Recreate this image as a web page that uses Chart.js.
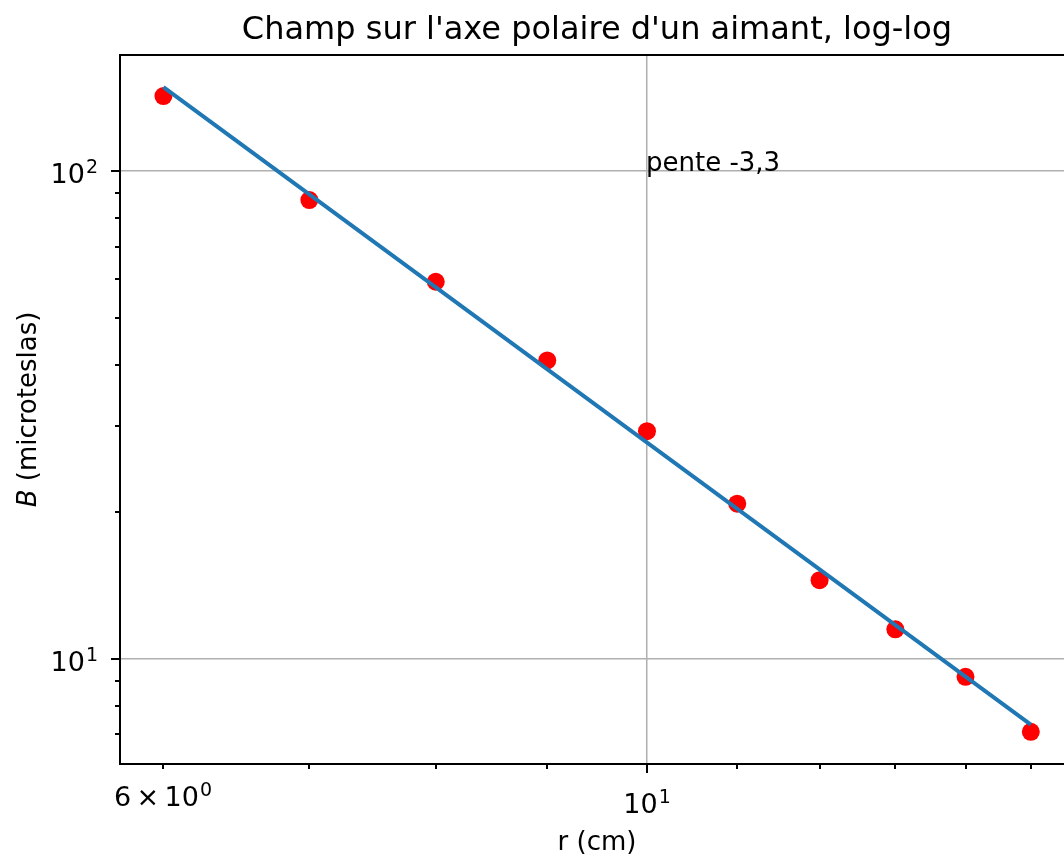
<!DOCTYPE html>
<html>
<head>
<meta charset="utf-8">
<script src="https://cdn.jsdelivr.net/npm/chart.js@4"></script>
<style>
  html,body{margin:0;padding:0;background:#fff;overflow:hidden;}
  canvas{display:block;}
</style>
</head>
<body>
<canvas id="c" width="1090" height="861"></canvas>
<script>
// mesures (r en cm, B en microteslas)
const rValues = [6, 7, 8, 9, 10, 11, 12, 13, 14, 15];
const bValues = [142.4, 87.2, 59.3, 40.9, 29.3, 20.8, 14.5, 11.5, 9.19, 7.09];
// droite d'ajustement (extrémités)
const fitR = [6, 15];
const fitB = [148.5, 7.33];

const xTickValues = [6, 7, 8, 9, 10, 11, 12, 13, 14, 15];
const yTickValues = [7, 8, 9, 10, 20, 30, 40, 50, 60, 70, 80, 90, 100];
// étiquettes : [base, exposant]
const xTickLabels = {6: ['6\u2009×\u200910', '0'], 10: ['10', '1']};
const yTickLabels = {10: ['10', '1'], 100: ['10', '2']};
const xRange = [5.731, 15.70];
const yRange = [6.09, 172.9];

const titleText = "Champ sur l'axe polaire d'un aimant, log-log";
const xLabel = 'r (cm)';
const noteText = 'pente -3,3';
const notePos = [10, 100];

const FONT = "'DejaVu Sans', sans-serif";
const isMajor = v => Math.abs(Math.log10(v) - Math.round(Math.log10(v))) < 1e-9;

function supLabel(ctx, parts, x, y, align){
  ctx.font = '27px ' + FONT;
  const w1 = ctx.measureText(parts[0]).width;
  ctx.font = '19px ' + FONT;
  const w2 = ctx.measureText(parts[1]).width;
  const w = w1 + w2 + 1;
  const x0 = align === 'right' ? x - w : x - w / 2;
  ctx.textAlign = 'left';
  ctx.textBaseline = 'alphabetic';
  ctx.font = '27px ' + FONT;
  ctx.fillText(parts[0], x0, y);
  ctx.font = '19px ' + FONT;
  ctx.fillText(parts[1], x0 + w1 + 1, y - 10);
}

const deco = {
  id: 'deco',
  afterDraw(chart){
    const ctx = chart.ctx, a = chart.chartArea;
    const xs = chart.scales.x, ys = chart.scales.y;
    ctx.save();
    ctx.strokeStyle = '#000';
    ctx.fillStyle = '#000';
    ctx.lineWidth = 2;
    // graduations + étiquettes
    xs.ticks.forEach(t => {
      const p = Math.round(xs.getPixelForValue(t.value));
      const len = t.major ? 9 : 5;
      ctx.beginPath(); ctx.moveTo(p, a.bottom); ctx.lineTo(p, a.bottom + len); ctx.stroke();
      const lab = xTickLabels[t.value];
      if (lab) supLabel(ctx, lab, p, a.bottom + (t.major ? 49 : 42), 'center');
    });
    ys.ticks.forEach(t => {
      const p = Math.round(ys.getPixelForValue(t.value));
      const len = t.major ? 9 : 5;
      ctx.beginPath(); ctx.moveTo(a.left, p); ctx.lineTo(a.left - len, p); ctx.stroke();
      const lab = yTickLabels[t.value];
      if (lab) supLabel(ctx, lab, a.left - 22, p + 12, 'right');
    });
    // cadre haut / droite
    ctx.beginPath();
    ctx.moveTo(a.left, a.top); ctx.lineTo(a.right, a.top); ctx.lineTo(a.right, a.bottom);
    ctx.stroke();

    // titre
    ctx.font = '32px ' + FONT;
    ctx.textAlign = 'center';
    ctx.textBaseline = 'alphabetic';
    ctx.fillText(titleText, (a.left + a.right) / 2, a.top - 16);
    // axe x
    ctx.font = '26px ' + FONT;
    ctx.fillText(xLabel, (a.left + a.right) / 2, 850);
    // annotation
    ctx.textAlign = 'left';
    ctx.fillText(noteText, xs.getPixelForValue(notePos[0]) - 1, ys.getPixelForValue(notePos[1]));
    // axe y : B en italique
    ctx.translate(36, (a.top + a.bottom) / 2);
    ctx.rotate(-Math.PI / 2);
    ctx.font = 'italic 26px ' + FONT;
    const wB = ctx.measureText('B').width;
    ctx.font = '26px ' + FONT;
    const rest = ' (microteslas)';
    const wR = ctx.measureText(rest).width;
    const x0 = -(wB + wR) / 2;
    ctx.font = 'italic 26px ' + FONT;
    ctx.fillText('B', x0, 0);
    ctx.font = '26px ' + FONT;
    ctx.fillText(rest, x0 + wB, 0);
    ctx.restore();
  }
};

const gridOpts = {
  color: c => (c.tick && c.tick.major) ? '#b0b0b0' : 'rgba(0,0,0,0)',
  lineWidth: 1.5,
  drawTicks: false
};

new Chart(document.getElementById('c'), {
  type: 'scatter',
  data: {
    datasets: [
      {
        label: 'fit',
        data: fitR.map((r, i) => ({x: r, y: fitB[i]})),
        showLine: true,
        borderColor: '#1f77b4',
        borderWidth: 4,
        pointRadius: 0,
        order: 0
      },
      {
        label: 'mesures',
        data: rValues.map((r, i) => ({x: r, y: bValues[i]})),
        backgroundColor: '#ff0000',
        borderColor: '#ff0000',
        pointRadius: 9,
        borderWidth: 0,
        order: 1
      }
    ]
  },
  options: {
    responsive: false,
    animation: false,
    layout: {padding: {top: 55, right: 16, left: 0, bottom: 0}},
    plugins: {legend: {display: false}, title: {display: false}, tooltip: {enabled: false}},
    scales: {
      x: {
        type: 'logarithmic',
        min: xRange[0], max: xRange[1],
        afterBuildTicks: s => { s.ticks = xTickValues.map(v => ({value: v, major: isMajor(v)})); },
        afterFit: s => { s.height = 97; },
        grid: gridOpts,
        border: {color: '#000', width: 2},
        ticks: {autoSkip: false, maxRotation: 0, display: false, callback: () => ''}
      },
      y: {
        type: 'logarithmic',
        min: yRange[0], max: yRange[1],
        afterBuildTicks: s => { s.ticks = yTickValues.map(v => ({value: v, major: isMajor(v)})); },
        afterFit: s => { s.width = 120; },
        grid: gridOpts,
        border: {color: '#000', width: 2},
        ticks: {autoSkip: false, display: false, callback: () => ''}
      }
    }
  },
  plugins: [deco]
});
</script>
</body>
</html>
